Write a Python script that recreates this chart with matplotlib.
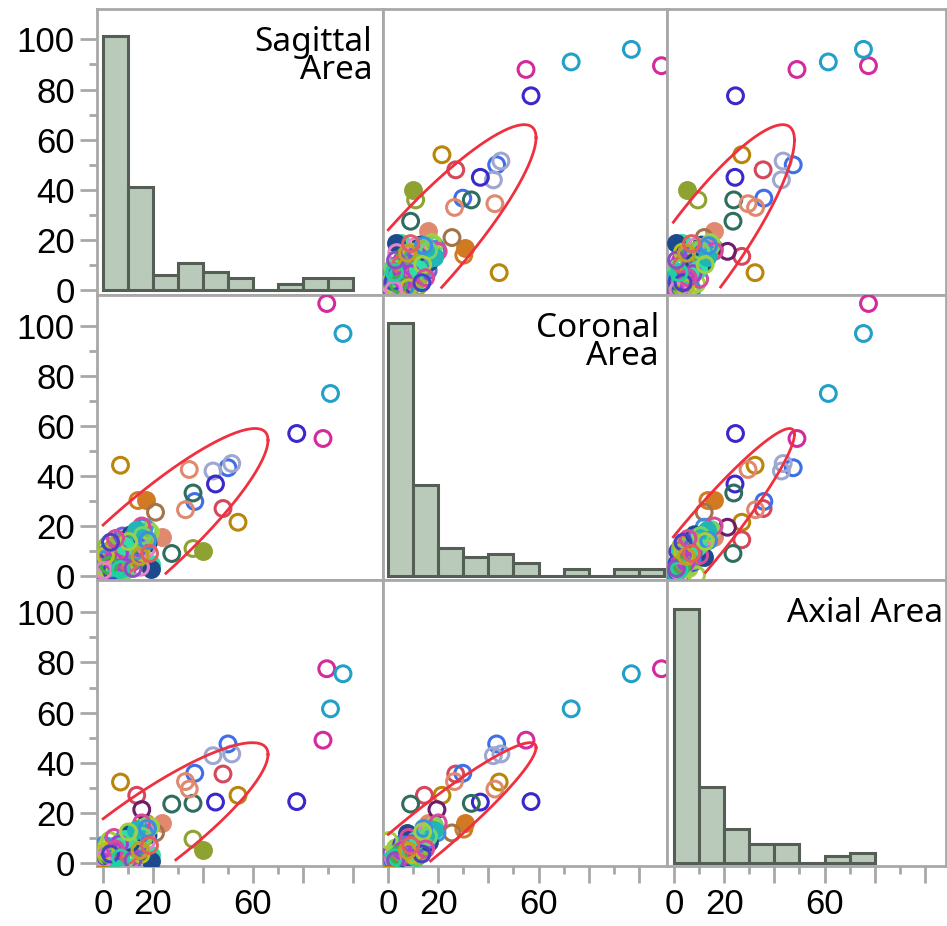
import numpy as np
import matplotlib.pyplot as plt

# Measurements per case: sagittal, coronal and axial area
sagittal = [89.5, 88.0, 96.0, 91.0, 77.5, 54.0, 7.0, 48.0, 13.5, 50.0,
            36.7, 51.5, 44.0, 45.0, 36.0, 27.5, 34.5, 33.0, 40.0, 36.0,
            23.5, 17.0, 14.0, 21.0, 15.5, 18.0, 19.0, 19.0, 0.5, 15.0,
            1.0, 2.0, 0.5, 3.0, 1.5, 4.0, 2.5, 5.0, 3.5, 6.0,
            0.8, 4.5, 7.0, 5.5, 2.0, 8.0, 6.5, 3.0, 9.0, 7.5,
            1.2, 0.3, 2.8, 4.2, 1.8, 5.2, 3.8, 6.2, 0.6, 7.2,
            8.5, 9.5, 10.0, 11.0, 9.0, 12.0, 10.5, 13.0, 11.5, 14.0,
            12.5, 15.0, 13.5, 16.0, 17.0, 14.5, 18.0, 16.5, 19.0, 15.5,
            2.2, 3.2, 5.8, 4.8, 6.8, 8.2, 7.8, 1.5, 10.8, 12.2,
            9.8, 11.8, 13.8, 15.2, 17.5, 6.0, 8.8, 0.4, 2.6, 4.4,
            3.5, 5.5, 7.5, 9.2, 10.2, 12.8, 14.2, 16.2, 11.2, 8.6,
            6.6, 4.0, 2.4, 1.0, 0.2, 13.2, 15.8, 17.8, 10.2, 5.0,
            3.0, 7.0, 12.0, 14.8, 18.6]
coronal = [109.0, 55.0, 97.0, 73.0, 57.0, 21.5, 44.3, 27.0, 14.5, 43.3,
           29.8, 45.0, 42.0, 36.8, 33.2, 9.0, 42.6, 26.5, 10.0, 11.0,
           15.8, 30.5, 30.2, 25.5, 19.5, 13.0, 5.0, 3.0, 0.6, 3.5,
           0.8, 1.5, 2.0, 2.5, 3.5, 3.0, 4.5, 4.0, 5.5, 5.0,
           5.0, 6.5, 6.0, 7.5, 7.0, 7.0, 8.5, 9.0, 8.0, 9.5,
           1.0, 0.5, 1.2, 1.8, 2.8, 2.2, 3.8, 3.2, 3.0, 4.2,
           5.5, 6.5, 9.0, 10.5, 11.5, 11.0, 12.5, 13.0, 14.0, 12.0,
           15.5, 14.5, 16.5, 17.0, 15.5, 18.0, 18.5, 19.5, 17.5, 20.0,
           9.8, 11.0, 10.5, 12.5, 13.0, 14.5, 16.0, 12.0, 7.5, 8.5,
           3.5, 5.5, 6.8, 9.5, 11.0, 1.0, 2.0, 6.5, 0.4, 8.2,
           2.0, 3.5, 5.5, 7.2, 5.0, 9.8, 11.5, 13.8, 16.5, 12.0,
           9.2, 6.0, 4.2, 8.2, 2.2, 18.5, 16.2, 14.2, 13.8, 15.0,
           13.5, 2.6, 3.0, 7.8, 9.0]
axial = [77.5, 49.0, 75.5, 61.5, 24.5, 27.0, 32.3, 35.5, 27.0, 47.5,
         35.8, 43.5, 42.8, 24.3, 23.8, 23.5, 29.5, 32.5, 5.0, 9.5,
         15.8, 16.0, 13.5, 12.0, 21.3, 11.0, 3.0, 0.8, 0.4, 6.0,
         0.5, 1.0, 0.8, 1.5, 2.0, 2.5, 3.0, 2.0, 3.5, 4.0,
         1.2, 4.5, 3.0, 5.0, 2.5, 5.5, 6.0, 4.0, 6.5, 7.0,
         3.5, 0.3, 0.6, 1.1, 4.5, 1.8, 5.5, 2.8, 6.0, 3.6,
         7.5, 8.0, 7.0, 8.5, 9.5, 9.0, 10.5, 8.0, 11.0, 10.0,
         12.0, 13.0, 11.5, 14.0, 12.5, 13.5, 15.0, 12.0, 14.5, 16.0,
         1.5, 2.2, 3.8, 6.8, 5.2, 7.8, 9.2, 2.8, 11.8, 4.2,
         1.6, 2.6, 6.2, 3.4, 8.8, 0.9, 1.4, 7.2, 9.0, 10.2,
         1.2, 2.2, 4.8, 5.8, 3.2, 6.6, 7.4, 9.8, 8.2, 9.6,
         7.6, 5.0, 3.2, 4.6, 1.6, 13.0, 10.6, 13.8, 12.4, 5.6,
         3.6, 2.0, 1.0, 5.0, 7.0]
point_color = ['#d42a9c', '#d42a9c', '#22a0c8', '#22a0c8', '#3a28cc',
               '#b8860b', '#b8860b', '#d5485c', '#d5485c', '#3f6ee6',
               '#3f6ee6', '#9ea6d2', '#9ea6d2', '#3a28cc', '#2f6e5f',
               '#2f6e5f', '#e0896f', '#e0896f', '#8ea232', '#8ea232',
               '#e0896f', '#d27a22', '#d27a22', '#a27448', '#6b1c6b',
               '#1c4a8c', '#2ee0a6', '#1c4a8c', '#b8860b', '#e582c8']
point_filled = [False] * 18 + [True, False, True, True, False, False,
                               False, False, True, True, True, False]
cluster_palette = ['#9b3fd8', '#c03ad0', '#3cb043', '#b8c020', '#e582c8',
                   '#22b5b5', '#6fd36f', '#3b8fe0', '#a0d040', '#d84a9a',
                   '#4a40c8', '#20d0a0', '#8a50c0', '#c0a020', '#e06060',
                   '#50a0a0', '#7060e0', '#90c030', '#1c4a8c', '#2ee0a6']
cluster_filled = [11, 19, 31, 38, 45, 51, 58, 71, 79, 85]

variables = ['Sagittal\nArea', 'Coronal\nArea', 'Axial Area']
values = [sagittal, coronal, axial]

# Histogram heights per 10-unit bin
hist_heights = [
    [101.3, 41.0, 6.0, 10.7, 7.2, 4.9, 0.0, 2.5, 4.9, 4.9],
    [101.3, 36.4, 11.1, 7.5, 8.8, 5.1, 0.0, 2.8, 0.0, 2.8, 2.8],
    [101.2, 30.2, 13.6, 7.4, 7.4, 0.0, 2.8, 3.9],
]

# Density ellipse parameters (centre, half extent, correlation)
ell_mean = [14.0, 12.0, 9.0]
ell_extent = [52.0, 47.0, 39.0]
ell_corr = {(0, 1): 0.90, (0, 2): 0.88, (1, 2): 0.95}

xlims = [(-2.4, 112.0), (-2.0, 111.2), (-2.8, 108.4)]
ylims = [(-1.9, 112.1), (-1.6, 112.4), (-1.2, 112.9)]
label_x = [0.963, 0.972, 0.99]

colors = list(point_color)
filled = list(point_filled)
for i in range(len(sagittal) - len(point_color)):
    colors.append(cluster_palette[i % len(cluster_palette)])
    filled.append(i in cluster_filled)

W, H = 947, 926
xs = [97, 383, 667, 946]
ys = [9, 295, 580, 866]
grid_col = '#a8a8a8'

fig = plt.figure(figsize=(W / 100, H / 100), dpi=100)

for r in range(3):
    for c in range(3):
        ax = fig.add_axes([xs[c] / W, 1 - ys[r + 1] / H,
                           (xs[c + 1] - xs[c]) / W, (ys[r + 1] - ys[r]) / H])
        ax.set_xlim(*xlims[c])
        ax.set_ylim(*ylims[r])
        for sp in ax.spines.values():
            sp.set_color(grid_col)
            sp.set_linewidth(2)

        if r == c:
            h = hist_heights[r]
            ax.bar(np.arange(len(h)) * 10, h, width=10, align='edge',
                   color='#b9cabb', edgecolor='#555e55', linewidth=2.2)
            ax.text(label_x[r], 0.94, variables[r], transform=ax.transAxes,
                    ha='right', va='top', fontsize=24, family='Noto Sans',
                    linespacing=0.8)
        else:
            xv = np.array(values[c])
            yv = np.array(values[r])
            for x, y, col, f in zip(xv, yv, colors, filled):
                ax.scatter(x, y, s=130, facecolor=col if f else 'none',
                           edgecolor=col, linewidths=2.2, zorder=3)
            key = (min(r, c), max(r, c))
            rho = ell_corr[key]
            t = np.linspace(0, 2 * np.pi, 400)
            ex = ell_mean[c] + ell_extent[c] * np.cos(t)
            ey = ell_mean[r] + ell_extent[r] * (rho * np.cos(t) + np.sqrt(1 - rho ** 2) * np.sin(t))
            # the curve stops just inside the frame
            keep = (ex >= -0.3) & (ey >= 0.8)
            ex[~keep] = np.nan
            ey[~keep] = np.nan
            ax.plot(ex, ey, color='#f0303f', linewidth=2, zorder=4)

        # axes ticks only on the outer edges
        ax.set_yticks([0, 20, 40, 60, 80, 100])
        ax.set_yticks([10, 30, 50, 70, 90], minor=True)
        ax.set_xticks([0, 20, 40, 60, 80, 100])
        ax.set_xticks([10, 30, 50, 70, 90], minor=True)
        ax.tick_params(which='both', direction='out', color=grid_col, width=2)
        ax.tick_params(which='major', length=12)
        ax.tick_params(which='minor', length=6)
        if c == 0:
            ax.set_yticklabels(['0', '20', '40', '60', '80', '100'],
                               fontsize=25, family='Liberation Sans')
            ax.tick_params(axis='y', pad=4)
        else:
            ax.tick_params(axis='y', which='both', left=False, labelleft=False)
        if r == 2:
            ax.set_xticklabels(['0', '20', '', '60', '', ''],
                               fontsize=25, family='Liberation Sans')
            ax.tick_params(axis='x', pad=4)
        else:
            ax.tick_params(axis='x', which='both', bottom=False, labelbottom=False)

fig.savefig('out.png', dpi=100)
